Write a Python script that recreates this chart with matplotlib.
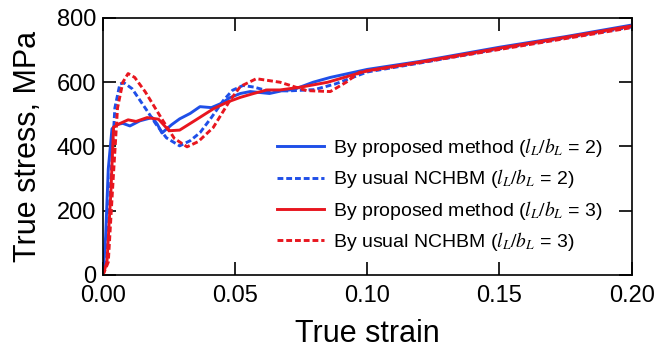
import matplotlib
matplotlib.use("Agg")
import matplotlib.pyplot as plt

plt.rcParams['font.family'] = ['Liberation Sans', 'DejaVu Sans']
plt.rcParams['mathtext.fontset'] = 'stix'

# Blue solid: proposed method, lL/bL = 2
strain_b_prop = [0.0, 0.001, 0.002, 0.0034, 0.005, 0.0075, 0.0102, 0.014, 0.0186, 0.0205, 0.0223,
                 0.026, 0.029, 0.033, 0.0367, 0.041, 0.045, 0.048, 0.052, 0.0557, 0.063, 0.068,
                 0.072, 0.0795, 0.086, 0.10, 0.12, 0.15, 0.175, 0.20]
stress_b_prop = [0, 120, 330, 455, 468, 472, 464, 480, 490, 470, 442,
                 468, 486, 503, 524, 521, 535, 552, 565, 571, 565, 574,
                 577, 600, 615, 640, 665, 709, 742, 778]

# Blue dashed: usual NCHBM, lL/bL = 2
strain_b_usual = [0.0, 0.0015, 0.003, 0.0045, 0.0064, 0.008, 0.011, 0.0167, 0.020, 0.024, 0.029,
                  0.033, 0.0367, 0.041, 0.0455, 0.049, 0.053, 0.057, 0.062, 0.070, 0.080, 0.088,
                  0.10, 0.12, 0.15, 0.175, 0.20]
stress_b_usual = [0, 60, 300, 520, 595, 598, 580, 511, 470, 427, 402,
                  418, 443, 490, 543, 575, 590, 585, 574, 573, 577, 595,
                  632, 660, 704, 738, 772]

# Red solid: proposed method, lL/bL = 3
strain_r_prop = [0.0, 0.0015, 0.003, 0.004, 0.006, 0.0095, 0.0125, 0.0167, 0.021, 0.025, 0.029,
                 0.035, 0.0417, 0.047, 0.052, 0.057, 0.062, 0.067, 0.075, 0.085, 0.10, 0.12,
                 0.15, 0.175, 0.20]
stress_r_prop = [0, 40, 260, 460, 470, 483, 478, 490, 485, 449, 451,
                 482, 517, 538, 553, 565, 576, 576, 585, 600, 636, 663,
                 706, 740, 775]

# Red dashed: usual NCHBM, lL/bL = 3
strain_r_usual = [0.0, 0.002, 0.0035, 0.0055, 0.0075, 0.0095, 0.012, 0.016, 0.0227, 0.027, 0.0318,
                  0.036, 0.0417, 0.048, 0.052, 0.058, 0.067, 0.077, 0.086, 0.092, 0.097, 0.11,
                  0.13, 0.15, 0.175, 0.20]
stress_r_usual = [0, 40, 250, 520, 600, 627, 615, 570, 480, 425, 399,
                  415, 459, 543, 587, 611, 600, 574, 571, 600, 631, 648,
                  675, 702, 736, 770]

blue = '#1f4fe8'
red = '#e8161f'

fig = plt.figure(figsize=(6.61, 3.48), dpi=100)
ax = fig.add_axes([0.1558, 0.2098, 0.7998, 0.7385])

lw = 2.1
ax.plot(strain_b_prop, stress_b_prop, color=blue, lw=lw, ls='-',
        label=r'By proposed method ($l_L/b_L$ = 2)')
ax.plot(strain_b_usual, stress_b_usual, color=blue, lw=lw, ls=(0, (2, 1)),
        label=r'By usual NCHBM ($l_L/b_L$ = 2)')
ax.plot(strain_r_prop, stress_r_prop, color=red, lw=lw, ls='-',
        label=r'By proposed method ($l_L/b_L$ = 3)')
ax.plot(strain_r_usual, stress_r_usual, color=red, lw=lw, ls=(0, (2, 1)),
        label=r'By usual NCHBM ($l_L/b_L$ = 3)')

ax.set_xlim(0, 0.20)
ax.set_ylim(0, 800)
ax.set_xticks([0.0, 0.05, 0.10, 0.15, 0.20])
ax.set_xticklabels(['0.00', '0.05', '0.10', '0.15', '0.20'])
ax.set_yticks([0, 200, 400, 600, 800])
ax.tick_params(direction='in', top=True, right=True, length=9.5, width=1.2,
               labelsize=17)
ax.tick_params(axis='x', pad=7)
ax.tick_params(axis='y', pad=5)
for s in ax.spines.values():
    s.set_linewidth(1.2)

ax.set_xlabel('True strain', fontsize=22, labelpad=9)
ax.set_ylabel('True stress, MPa', fontsize=22, labelpad=10)

leg = ax.legend(loc='upper left', bbox_to_anchor=(0.315, 0.57), frameon=False,
                fontsize=14, handlelength=2.4, handletextpad=0.45,
                labelspacing=0.42, borderaxespad=0)

fig.savefig('out.png', dpi=100)
